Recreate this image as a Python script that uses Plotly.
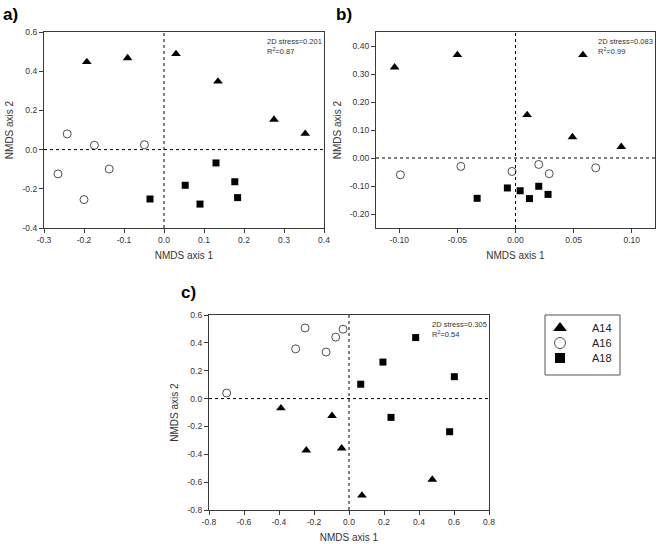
import plotly.graph_objects as go

# ---------------- data ----------------
# Panel a
A_A14_X = [-0.193, -0.091, 0.030, 0.135, 0.275, 0.353]
A_A14_Y = [0.447, 0.467, 0.488, 0.348, 0.153, 0.081]
A_A16_X = [-0.242, -0.174, -0.049, -0.265, -0.137, -0.200]
A_A16_Y = [0.080, 0.022, 0.025, -0.124, -0.099, -0.255]
A_A18_X = [-0.035, 0.053, 0.090, 0.130, 0.177, 0.184]
A_A18_Y = [-0.252, -0.182, -0.278, -0.068, -0.164, -0.245]
# Panel b
B_A14_X = [-0.104, -0.050, 0.058, 0.010, 0.049, 0.091]
B_A14_Y = [0.324, 0.368, 0.368, 0.154, 0.075, 0.040]
B_A16_X = [-0.099, -0.047, -0.003, 0.020, 0.029, 0.069]
B_A16_Y = [-0.060, -0.030, -0.048, -0.023, -0.056, -0.035]
B_A18_X = [-0.033, -0.007, 0.004, 0.020, 0.012, 0.028]
B_A18_Y = [-0.144, -0.107, -0.117, -0.101, -0.145, -0.130]
# Panel c
C_A14_X = [-0.389, -0.097, -0.244, -0.042, 0.476, 0.074]
C_A14_Y = [-0.069, -0.124, -0.371, -0.357, -0.581, -0.695]
C_A16_X = [-0.699, -0.305, -0.251, -0.131, -0.076, -0.034]
C_A16_Y = [0.040, 0.357, 0.507, 0.334, 0.441, 0.498]
C_A18_X = [0.381, 0.194, 0.602, 0.067, 0.240, 0.575]
C_A18_Y = [0.438, 0.262, 0.157, 0.103, -0.135, -0.238]

GROUPS = ["A14", "A16", "A18"]
STRESS = ["2D stress=0.201", "2D stress=0.083", "2D stress=0.305"]
R2 = ["0.87", "0.99", "0.54"]
PANEL_LABELS = ["a)", "b)", "c)"]

A_XTICKS = [-0.3, -0.2, -0.1, 0.0, 0.1, 0.2, 0.3, 0.4]
A_YTICKS = [-0.4, -0.2, 0.0, 0.2, 0.4, 0.6]
B_XTICKS = [-0.10, -0.05, 0.00, 0.05, 0.10]
B_YTICKS = [-0.20, -0.10, 0.00, 0.10, 0.20, 0.30, 0.40]
C_XTICKS = [-0.8, -0.6, -0.4, -0.2, 0.0, 0.2, 0.4, 0.6, 0.8]
C_YTICKS = [-0.8, -0.6, -0.4, -0.2, 0.0, 0.2, 0.4, 0.6]

# ---------------- layout helpers ----------------
FONT = "Liberation Sans, Arial, sans-serif"
W, H = 660, 544


def fx(px):
    return px / W


def fy(py):
    return 1 - py / H


SYMBOLS = {"A14": "triangle-up", "A16": "circle", "A18": "square"}
SIZES = {"A14": 8.5, "A16": 8, "A18": 7}
LEG_SIZES = {"A14": 12, "A16": 11, "A18": 10}


def marker(g, size):
    if g == "A16":
        return dict(symbol="circle", size=size, color="white",
                    line=dict(color="#222222", width=0.8))
    return dict(symbol=SYMBOLS[g], size=size, color="black",
                line=dict(color="black", width=0))


fig = go.Figure()

panels = [
    dict(xs=[A_A14_X, A_A16_X, A_A18_X], ys=[A_A14_Y, A_A16_Y, A_A18_Y],
         xr=[-0.3, 0.4], yr=[-0.4, 0.6], xt=A_XTICKS, yt=A_YTICKS, fmt="%.1f",
         box=(44, 324, 32, 228)),
    dict(xs=[B_A14_X, B_A16_X, B_A18_X], ys=[B_A14_Y, B_A16_Y, B_A18_Y],
         xr=[-0.12, 0.12], yr=[-0.25, 0.45], xt=B_XTICKS, yt=B_YTICKS, fmt="%.2f",
         box=(376, 655, 32, 228)),
    dict(xs=[C_A14_X, C_A16_X, C_A18_X], ys=[C_A14_Y, C_A16_Y, C_A18_Y],
         xr=[-0.8, 0.8], yr=[-0.8, 0.6], xt=C_XTICKS, yt=C_YTICKS, fmt="%.1f",
         box=(209, 489, 315, 510)),
]

axis_common = dict(showgrid=False, zeroline=False, showline=True, mirror=True,
                   linecolor="#3a3a3a", linewidth=1.3, ticks="outside", ticklen=4,
                   tickwidth=1, tickcolor="#3a3a3a", automargin=False,
                   tickfont=dict(family=FONT, size=8.5, color="#333333"))

for i, p in enumerate(panels):
    n = "" if i == 0 else str(i + 1)
    xa, ya = "x" + n, "y" + n
    l, r, t, b = p["box"]
    for g, xs, ys in zip(GROUPS, p["xs"], p["ys"]):
        fig.add_trace(go.Scatter(x=xs, y=ys, mode="markers", xaxis=xa, yaxis=ya,
                                 marker=marker(g, SIZES[g]),
                                 showlegend=False, hoverinfo="x+y", name=g))
    fig.update_layout(**{
        "xaxis" + n: dict(axis_common, domain=[fx(l), fx(r)], range=p["xr"], anchor=ya,
                          tickvals=p["xt"], ticktext=[p["fmt"] % v for v in p["xt"]],
                          title=dict(text="NMDS axis 1", standoff=7,
                                     font=dict(family=FONT, size=10, color="#333333"))),
        "yaxis" + n: dict(axis_common, domain=[fy(b), fy(t)], range=p["yr"], anchor=xa,
                          tickvals=p["yt"], ticktext=[p["fmt"] % v for v in p["yt"]],
                          title=dict(text="NMDS axis 2", standoff=6,
                                     font=dict(family=FONT, size=10, color="#333333"))),
    })
    # dotted zero lines
    fig.add_shape(type="line", xref=xa, yref=ya + " domain", x0=0, x1=0, y0=0, y1=1,
                  line=dict(color="black", width=1, dash="dot"))
    fig.add_shape(type="line", xref=xa + " domain", yref=ya, x0=0, x1=1, y0=0, y1=0,
                  line=dict(color="black", width=1, dash="dot"))
    # stress / R2 text
    fig.add_annotation(xref=xa + " domain", yref=ya + " domain", x=0.79, y=0.95,
                       text=STRESS[i], showarrow=False, xanchor="left", yanchor="middle",
                       font=dict(family=FONT, size=7.5, color="#333333"))
    fig.add_annotation(xref=xa + " domain", yref=ya + " domain", x=0.79, y=0.905,
                       text="R<sup>2</sup>=" + R2[i], showarrow=False, xanchor="left",
                       yanchor="middle", font=dict(family=FONT, size=7.5, color="#333333"))

# panel labels
for lab, (px, py) in zip(PANEL_LABELS, [(1, 14), (334, 14), (179, 292)]):
    fig.add_annotation(xref="paper", yref="paper", x=fx(px), y=fy(py), text="<b>" + lab + "</b>",
                       showarrow=False, xanchor="left", yanchor="middle",
                       font=dict(family=FONT, size=17, color="black"))

# ---------------- legend (boxed key on a hidden helper axis) ----------------
LEG_BOX = (545, 620, 315, 375)
LEG_ROWS = [328, 343, 358]
LEG_MARK_X = 560
LEG_TEXT_X = 590
lx0, lx1, ly0, ly1 = LEG_BOX
fig.update_layout(
    xaxis4=dict(domain=[fx(lx0), fx(lx1)], range=[lx0, lx1], visible=False, anchor="y4",
                fixedrange=True),
    yaxis4=dict(domain=[fy(ly1), fy(ly0)], range=[ly1, ly0], visible=False, anchor="x4",
                fixedrange=True),
)
fig.add_shape(type="rect", xref="x4 domain", yref="y4 domain", x0=0, x1=1, y0=0, y1=1,
              line=dict(color="#555555", width=1), fillcolor="white", layer="below")
for g, ry in zip(GROUPS, LEG_ROWS):
    fig.add_trace(go.Scatter(x=[LEG_MARK_X], y=[ry], mode="markers", xaxis="x4", yaxis="y4",
                             marker=marker(g, LEG_SIZES[g]), showlegend=False,
                             hoverinfo="skip", name=g))
    fig.add_annotation(xref="x4", yref="y4", x=LEG_TEXT_X, y=ry, text=g, showarrow=False,
                       xanchor="left", yanchor="middle",
                       font=dict(family=FONT, size=11, color="#222222"))

fig.update_layout(
    width=W, height=H, margin=dict(l=0, r=0, t=0, b=0),
    paper_bgcolor="white", plot_bgcolor="white",
    font=dict(family=FONT, color="#333333"),
    showlegend=False,
)

# remove the page's default body margin so the figure sits at the window's corner
fig.write_html("out.html", config={"displayModeBar": False},
               post_script="document.body.style.margin='0px';")
